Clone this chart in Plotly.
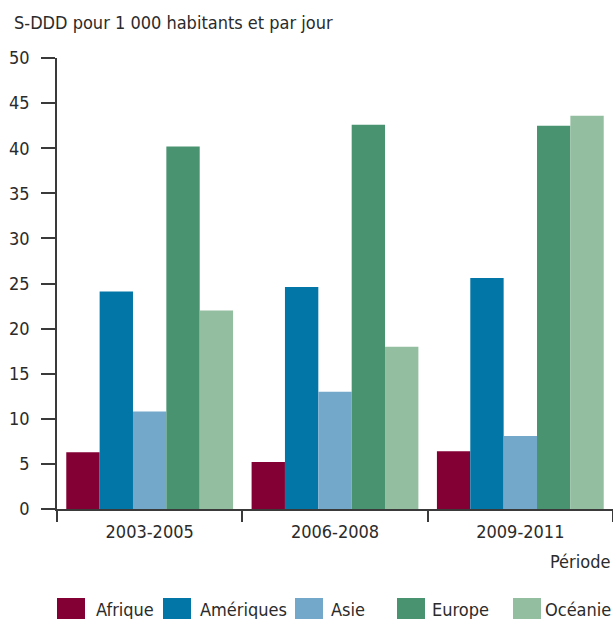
import plotly.graph_objects as go

# Consommation d'antibiotiques par région (S-DDD pour 1 000 habitants et par jour)
periods = ["2003-2005", "2006-2008", "2009-2011"]
regions = ["Afrique", "Amériques", "Asie", "Europe", "Océanie"]
afrique = [6.3, 5.2, 6.4]
ameriques = [24.1, 24.6, 25.6]
asie = [10.8, 13.0, 8.1]
europe = [40.2, 42.6, 42.5]
oceanie = [22.0, 18.0, 43.6]
series = [afrique, ameriques, asie, europe, oceanie]
colors = ["#830034", "#0277A7", "#73A8CA", "#4A9371", "#93BEA0"]
y_ticks = list(range(0, 55, 5))

FONT = "DejaVu Sans Condensed, Liberation Sans Narrow, sans-serif"
FS = 18
TEXT = "#2b2b2b"
AXIS = "#3a3a3a"

W, H = 613, 619
ML, MR, MT, MB = 57, 0, 58, 110
PW, PH = W - ML - MR, H - MT - MB


def px(x):
    return (x - ML) / PW


def py(y):
    return (H - MB - y) / PH


fig = go.Figure()
for name, vals, col in zip(regions, series, colors):
    fig.add_trace(go.Bar(x=periods, y=vals, name=name, marker_color=col,
                         marker_line_width=0, showlegend=False))

fig.update_layout(
    width=W, height=H,
    margin=dict(l=ML, r=MR, t=MT, b=MB),
    paper_bgcolor="white", plot_bgcolor="white",
    barmode="group", bargap=0.1, bargroupgap=0,
    font=dict(family=FONT, size=FS, color=TEXT),
)
fig.update_xaxes(
    type="category", range=[-0.5, 2.5],
    showline=True, linecolor=AXIS, linewidth=1.5,
    ticks="outside", tickson="boundaries", ticklen=11, tickwidth=1.5, tickcolor=AXIS,
    ticklabelstandoff=6,
    showgrid=False, zeroline=False,
    tickfont=dict(family=FONT, size=FS, color=TEXT),
)
fig.update_yaxes(
    range=[0, 50], tickvals=y_ticks,
    showline=True, linecolor=AXIS, linewidth=1.5,
    ticks="outside", ticklen=14, tickwidth=1.5, tickcolor=AXIS,
    ticklabelstandoff=8,
    showgrid=False, zeroline=False,
    tickfont=dict(family=FONT, size=FS, color=TEXT),
)

# Axis titles
fig.add_annotation(text="S-DDD pour 1 000 habitants et par jour",
                   xref="paper", yref="paper", x=px(12), y=py(23),
                   xanchor="left", yanchor="middle", showarrow=False,
                   font=dict(family=FONT, size=FS, color=TEXT))
fig.add_annotation(text="Période",
                   xref="paper", yref="paper", x=px(612), y=py(561),
                   xanchor="right", yanchor="middle", showarrow=False,
                   font=dict(family=FONT, size=FS, color=TEXT))

# Legend drawn below the axis
swatch_left = [57, 163, 295, 397, 513]
label_left = [96, 200, 331, 432, 545]
for name, col, sx, lx in zip(regions, colors, swatch_left, label_left):
    fig.add_shape(type="rect", xref="paper", yref="paper",
                  x0=px(sx), x1=px(sx + 28), y0=py(598), y1=py(621),
                  fillcolor=col, line_width=0)
    fig.add_annotation(text=name, xref="paper", yref="paper",
                       x=px(lx - 2), y=py(609), xanchor="left", yanchor="middle",
                       showarrow=False, font=dict(family=FONT, size=FS, color=TEXT))

fig.write_html("out.html")
